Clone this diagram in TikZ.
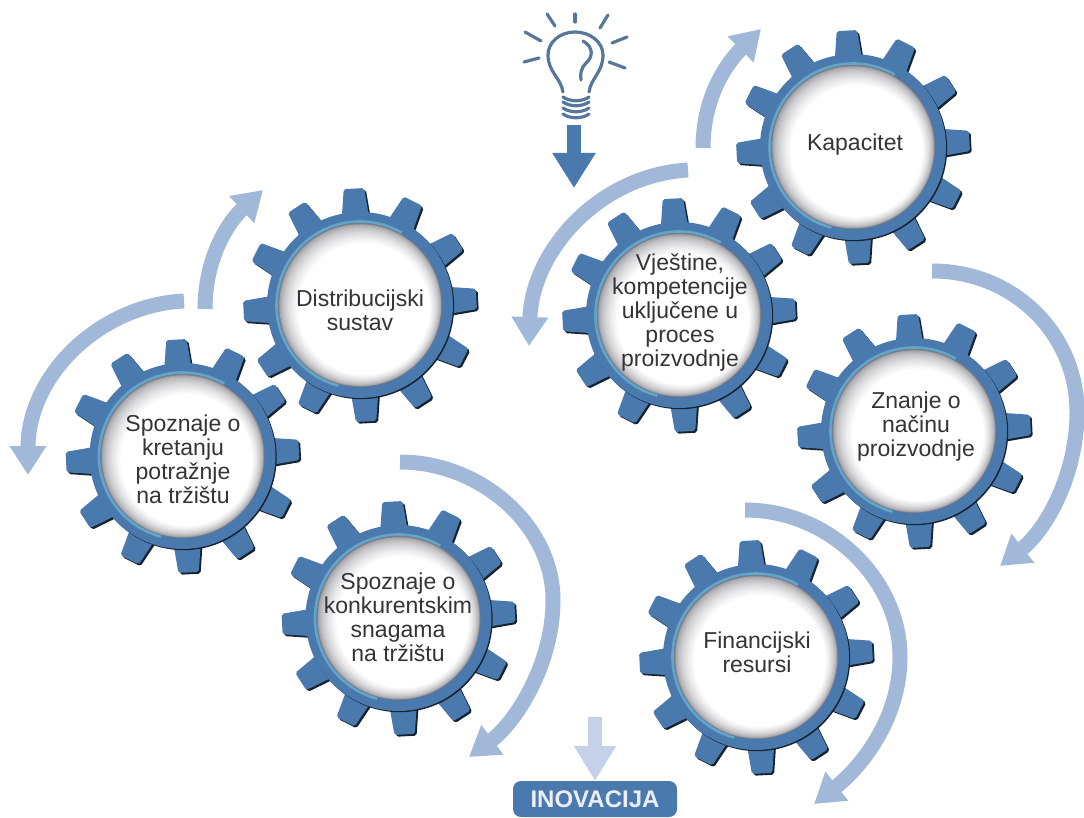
\documentclass[tikz,border=0pt]{standalone}
\usepackage{fontspec}
\setmainfont{Liberation Sans}
\usepackage{xcolor}
\usetikzlibrary{arrows.meta,positioning,calc}

\definecolor{gearblue}{HTML}{4A79AE}
\definecolor{gearshadow}{HTML}{16232F}
\definecolor{gearring}{HTML}{62A5C9}
\definecolor{faceedge}{HTML}{7C7C84}
\definecolor{bandblue}{HTML}{A2B8D8}
\definecolor{palearrow}{HTML}{C5D1E6}
\definecolor{bulbgrey}{HTML}{56769A}
\definecolor{labelgrey}{HTML}{333338}

% one gear: name, x, y, turn of the teeth
\newcommand{\gear}[4]{
  \begin{scope}[shift={(#2,#3)}]
    \coordinate (#1) at (0,0);
    \foreach \off/\col in {1.8/gearshadow,0/gearblue}
      \foreach \a in {0,30,...,330}
        \fill[\col, rounded corners=2pt, shift={(\off,\off)}]
          ({\a+#4-9}:88) -- ({\a+#4-5}:117) -- ({\a+#4+5}:117) -- ({\a+#4+9}:88) -- cycle;
    \fill[gearshadow, shift={(1.2,1.2)}] (0,0) circle (93);
    \fill[gearblue] (0,0) circle (93);
    \foreach \r in {82,81,...,66} {
      \pgfmathsetmacro\mixval{100*((82-\r)/16)^0.45}
      \fill[white!\mixval!faceedge] ({0.25*(82-\r)},{0.25*(82-\r)}) circle (\r);
    }
    \draw[gearring, line width=2.6pt] (105:83.5) arc[start angle=105, end angle=300, radius=83.5];
  \end{scope}
}

\begin{document}
\begin{tikzpicture}[
    x=1pt, y=-1pt,
    gearlabel/.style={align=center, text=labelgrey, inner sep=0pt, font=\fontsize{23}{24}\selectfont},
    bandarrow/.style={-{Triangle[length=29pt,width=35pt]}, line width=15pt, bandblue},
    bulbline/.style={bulbgrey, line width=3.2pt, line cap=round}
]
\useasboundingbox (0,0) rectangle (1084,818);

% Gears
\gear{capacity}{853}{147}{-3}
\gear{skills}{679}{315}{-3}
\gear{knowledge}{914}{431}{-3}
\gear{finance}{756}{657}{-3}
\gear{distribution}{360}{305}{-3}
\gear{demand}{182.5}{456}{-3}
\gear{rivals}{398.5}{618}{-3}

\node[gearlabel] (capacitytext) at (855,145) {Kapacitet};
\node[gearlabel] (skillstext) at (680,313) {Vještine,\\kompetencije\\uključene u\\proces\\proizvodnje};
\node[gearlabel] (knowledgetext) at (916,427) {Znanje o\\načinu\\proizvodnje};
\node[gearlabel] (financetext) at (757,652) {Financijski\\resursi};
\node[gearlabel] (distributiontext) at (360,310) {Distribucijski\\sustav};
\node[gearlabel] (demandtext) at (183,459) {Spoznaje o\\kretanju\\potražnje\\na tržištu};
\node[gearlabel] (rivalstext) at (398,617) {Spoznaje o\\konkurentskim\\snagama\\na tržištu};

% Curved arrows
\coordinate (upstart) at (703,148);
\coordinate (uptip) at (761,29);
\coordinate (skillstart) at (688,170);
\coordinate (skilltip) at (529,346);
\coordinate (knowstart) at (932,271);
\coordinate (knowtip) at (1000,566);
\coordinate (finstart) at (745,510);
\coordinate (fintip) at (814,804);
\coordinate (rivalstart) at (400,462);
\coordinate (rivaltip) at (469,757);
\coordinate (diststart) at (205,309);
\coordinate (disttip) at (263,190);
\coordinate (demstart) at (184,301);
\coordinate (demtip) at (28,475);

\draw[bandarrow] (upstart) .. controls (703,105) and (720,70) .. (uptip);
\draw[bandarrow] (skillstart) .. controls (600,175) and (532,250) .. (skilltip);
\draw[bandarrow] (knowstart) .. controls (1015,271) and (1077,335) .. (1077,412) .. controls (1077,475) and (1046,530) .. (knowtip);
\draw[bandarrow] (finstart) .. controls (830,510) and (900,580) .. (900,657) .. controls (900,720) and (860,768) .. (fintip);
\draw[bandarrow] (rivalstart) .. controls (480,462) and (553,525) .. (553,600) .. controls (553,665) and (515,723) .. (rivaltip);
\draw[bandarrow] (diststart) .. controls (205,262) and (225,225) .. (disttip);
\draw[bandarrow] (demstart) .. controls (100,305) and (28,375) .. (demtip);

% Light bulb
\draw[bulbline] (563,92) .. controls (561,78) and (548,72) .. (548,55) .. controls (548,42) and (560,32) .. (575,32)
  .. controls (590,32) and (603,42) .. (603,55) .. controls (603,72) and (591,78) .. (589,92);
\draw[bulbline] (583,41) .. controls (595,48) and (592,58) .. (586,63) .. controls (581,68) and (580,74) .. (581,80);
\foreach \ya in {97,102,108,114}
  \draw[bulbline] (563,\ya) .. controls (570,\ya+5) and (582,\ya+5) .. (589,\ya);
\foreach \xa/\ya/\xb/\yb in {547/14/555/26,575/14/575/22,608/15/600/28,525/32/541/41,524/62/539/58,612/43/627/37,609/62/625/68}
  \draw[bulbline] (\xa,\ya) -- (\xb,\yb);

% Straight arrows and result box
\coordinate (bulbstart) at (574,125);
\coordinate (bulbtip) at (574,188);
\draw[-{Triangle[length=35pt,width=41pt]}, line width=14pt, gearblue] (bulbstart) -- (bulbtip);

\node[fill=gearblue, rounded corners=8pt, minimum width=164pt, minimum height=36pt, inner sep=0pt,
  text=white!88!gearblue, font=\fontsize{24}{24}\selectfont\bfseries] (result) at (595,799) {INOVACIJA};
\coordinate (palestart) at (595,717);
\draw[-{Triangle[length=35pt,width=40pt]}, line width=14pt, palearrow] (palestart) -- (result.north);

\end{tikzpicture}
\end{document}
